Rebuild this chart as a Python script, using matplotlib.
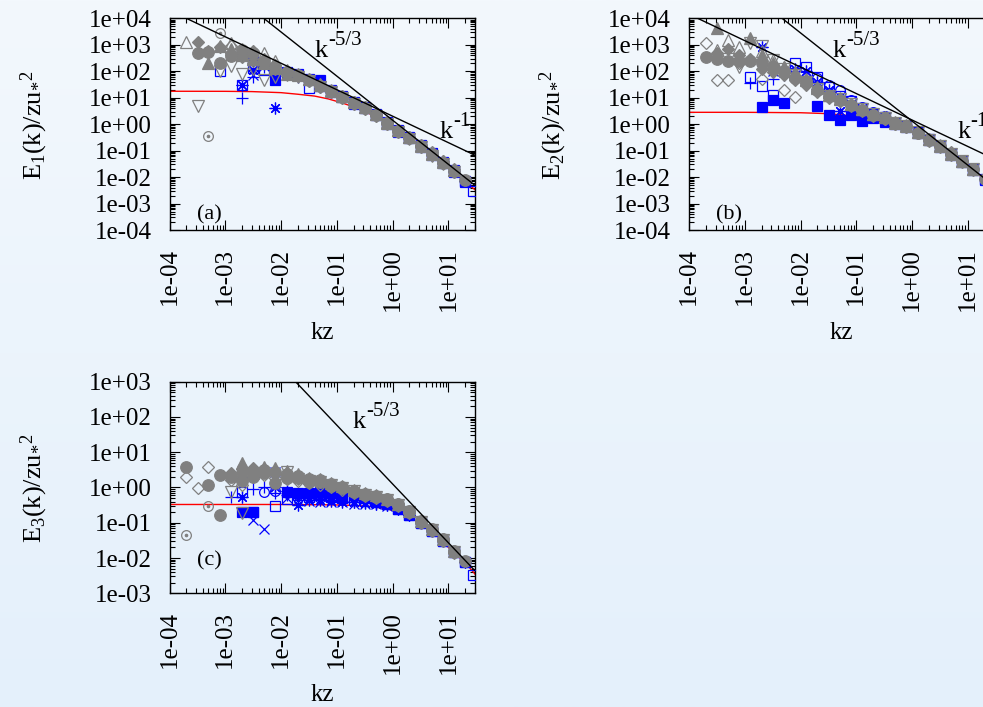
import numpy as np
import matplotlib
matplotlib.use('Agg')
import matplotlib.pyplot as plt
from matplotlib.ticker import LogLocator, FuncFormatter, NullFormatter
from matplotlib.colors import LinearSegmentedColormap

N = None

# ---------------- data ----------------
# common kz bins
K_BINS = [2.0e-4, 3.2e-4, 5.0e-4, 7.9e-4, 1.26e-3, 2.0e-3, 3.2e-3, 5.0e-3, 7.9e-3,
          0.0126, 0.020, 0.032, 0.050, 0.079, 0.126, 0.20, 0.32, 0.50, 0.79,
          1.26, 2.0, 3.2, 5.0, 7.9, 12.6, 20.0, 28.0]

# model (red) curves
A_RED_K = [1e-4, 1e-3, 3e-3, 0.01, 0.02, 0.04, 0.07, 0.12, 0.2, 0.4, 0.7, 1.2, 2, 4, 7, 12, 20, 30]
A_RED_E = [17.5, 17.4, 17.0, 15.5, 13.5, 11.5, 9.0, 6.5, 4.5, 2.4, 1.3, 0.58, 0.3, 0.11, 0.04, 0.016, 0.0068, 0.0033]
B_RED_K = [1e-4, 1e-3, 0.01, 0.03, 0.06, 0.1, 0.2, 0.4, 0.8, 1.5, 3, 6, 12, 20, 30]
B_RED_E = [2.8, 2.8, 2.7, 2.5, 2.2, 1.9, 1.5, 1.0, 0.65, 0.33, 0.14, 0.055, 0.019, 0.0082, 0.004]
C_RED_K = [1e-4, 1e-3, 1e-2, 0.05, 0.1, 0.2, 0.4, 0.8, 1.5, 3, 6, 12, 20, 30]
C_RED_E = [0.33, 0.33, 0.33, 0.325, 0.32, 0.31, 0.29, 0.25, 0.18, 0.1, 0.045, 0.015, 0.0075, 0.0035]

# reference power laws: amplitude at kz=1
A_KOLMO_AMP, A_KINV_AMP = 1.41, 2.0
B_KOLMO_AMP, B_KINV_AMP = 1.3, 1.43
C_KOLMO_AMP = 1.26

# panel (a) series (values on K_BINS)
A_G_FCIRCLE = [N, 480, 550, 200, 380, 650, 480, 240, 150, 90, 72, 47, 28, 17.5, 11, 6.3, 4.2, 2.3, 1.1, 0.56, 0.31, 0.15, 0.072, 0.035, 0.017, 0.0075, N]
A_G_FDIAMOND = [N, 1300, 600, 850, 500, 350, 600, 300, 170, 100, 66, 44, 26, 16, 10, 6.0, 3.9, 2.1, 1.05, 0.52, 0.29, 0.14, 0.068, 0.033, 0.016, N, N]
A_G_FTRI = [N, N, 200, 900, 700, 420, 300, 200, 130, 80, 75, 50, 30, 18.5, 11.5, 6.6, 4.4, 2.4, 1.15, 0.58, 0.32, 0.155, 0.075, 0.036, 0.018, N, N]
A_G_OTRI = [1300, N, N, N, 1150, 700, 420, 480, 250, 110, 80, 52, 32, 20, 12, 7.0, 4.6, 2.5, 1.2, 0.6, 0.33, 0.16, 0.08, 0.04, 0.019, N, N]
A_G_OINV = [N, 4.8, N, 100, 160, 80, 120, 48, 60, 70, 60, 42, 25, 16, 10, 5.8, 3.8, 2.1, 1.0, 0.5, 0.28, 0.135, 0.065, 0.031, 0.015, N, N]
A_G_ODIAMOND = [N, N, N, N, 900, 400, 250, 200, 120, 95, 70, 46, 29, 18, 11.5, 6.8, 4.5, 2.45, 1.2, 0.6, 0.34, 0.17, 0.085, 0.04, 0.02, N, N]
A_G_DOTCIRCLE = [N, N, 0.36, 2700, N, N, N, N, N, N, N, N, N, N, N, N, N, N, N, N, N, N, N, N, N, N, N]
A_B_FSQUARE = [N, N, N, N, N, 480, 260, N, 48, 90, 80, 50, 45, 20, 12, 7.0, 4.5, 2.5, 1.2, 0.6, 0.33, 0.16, 0.08, 0.038, 0.018, 0.0068, N]
A_B_OSQUARE = [N, N, N, 98, N, 31, 130, 110, N, N, N, 23, 28, 17, 10.5, 6.0, 4.0, 2.2, 1.05, 0.52, 0.29, 0.14, 0.068, 0.033, 0.016, 0.007, 0.003]
A_B_PLUS = [N, N, N, N, N, 9.8, 60, 150, 120, 80, 60, 44, 27, 17, 10.5, 6.2, 4.1, 2.25, 1.1, 0.54, 0.3, 0.145, 0.07, 0.034, 0.016, 0.007, N]
A_B_STAR = [N, N, N, N, N, 31, 110, 180, 4.2, 85, 65, 45, 26, 16.5, 10.5, 6.1, 4.1, 2.2, 1.08, 0.53, 0.3, 0.145, 0.07, 0.034, 0.017, 0.0072, N]
A_B_X = [N, N, N, N, N, N, 74, 160, 130, 85, 68, 46, 27, 17, 10.8, 6.2, 4.1, 2.25, 1.1, 0.54, 0.3, 0.148, 0.071, 0.034, 0.017, 0.0072, N]

# panel (b) series
B_G_FCIRCLE = [360, 300, 235, 235, 235, 200, 150, 98, 55, 42, 20, 12, 8.5, 5.5, 3.5, 2.3, 1.7, 1.1, 0.84, 0.48, 0.26, 0.15, 0.072, 0.04, 0.02, 0.0085, N]
B_G_FDIAMOND = [N, 480, 700, 400, 300, 120, 90, 70, 45, 30, 18, 10, 7.5, 5.0, 3.2, 2.1, 1.55, 1.0, 0.78, 0.45, 0.24, 0.14, 0.068, 0.037, 0.019, N, N]
B_G_FTRI = [N, 4200, N, N, 1800, 400, 200, 150, 80, 45, 24, 13, 9, 6, 3.8, 2.5, 1.8, 1.15, 0.88, 0.5, 0.27, 0.155, 0.075, 0.041, 0.021, N, N]
B_G_OTRI = [N, 650, 1500, 800, N, 600, 270, 150, 90, 50, 25, 13, 9.5, 6, 3.8, 2.5, 1.8, 1.2, 0.9, 0.5, 0.28, 0.16, 0.078, 0.042, 0.021, N, N]
B_G_ODIAMOND = [1150, 48, 48, 200, N, 50, N, 20, 11, 35, 17, 10.5, 8, 5.2, 3.3, 2.2, 1.6, 1.05, 0.8, 0.47, 0.25, 0.145, 0.085, 0.04, 0.02, N, N]
B_G_OINV = [N, N, 300, 150, 1200, 900, 270, 120, 70, 40, 21, 11.5, 8.8, 5.7, 3.6, 2.35, 1.75, 1.12, 0.85, 0.49, 0.26, 0.15, 0.073, 0.04, 0.02, N, N]
B_B_FSQUARE = [N, N, N, N, N, 4.5, 8.5, 6.3, N, N, 5.0, 2.3, 1.4, 2.3, 1.3, 1.7, 1.2, 1.0, 0.75, 0.45, 0.25, 0.14, 0.07, 0.038, 0.019, 0.008, N]
B_B_OSQUARE = [N, N, N, N, 63, 27, 13, N, 200, 150, 60, 25, 12, 7.2, 4.0, 2.5, 1.8, 1.15, 0.86, 0.5, 0.27, 0.15, 0.074, 0.04, 0.02, 0.0085, 0.004]
B_B_OCIRCLE = [N, N, N, N, N, 200, N, N, N, N, 55, 30, 20, 8, 4.5, 2.8, 2.0, 1.25, 0.9, 0.52, N, N, N, N, N, N, N]
B_B_STAR = [N, N, N, N, N, 850, N, N, 120, 98, 40, 20, 3.1, 6, 3.6, 2.4, 1.75, 1.1, 0.85, 0.48, 0.26, 0.15, 0.072, 0.04, 0.02, 0.0085, N]
B_B_PLUS = [N, N, N, N, 35, N, 50, 70, 60, 45, 22, 12, 8.5, 5.6, 3.5, 2.3, 1.7, 1.1, 0.84, 0.48, 0.26, 0.15, 0.072, 0.04, 0.02, 0.0085, N]
B_B_X = [N, N, N, N, N, N, 100, 90, 70, 45, 22, 12, 8.5, 5.5, 3.5, 2.3, 1.7, 1.1, 0.84, 0.48, 0.26, 0.15, 0.072, 0.04, 0.02, 0.0085, N]

# panel (c) series
C_G_FCIRCLE = [3.9, N, 1.2, 2.2, 2.0, 2.5, 3.0, 3.2, 1.3, 1.9, 1.8, 1.4, 1.45, 1.1, 0.95, 0.76, 0.61, 0.55, 0.45, 0.32, 0.2, 0.107, 0.063, 0.033, 0.015, 0.008, N]
C_G_FCIRCLE2 = [N, N, N, 0.17, N, 1.5, 2.0, 2.5, 2.8, 2.4, 2.1, 1.7, 1.6, 1.25, 1.05, 0.82, 0.66, 0.58, 0.47, 0.33, 0.21, 0.11, 0.065, 0.034, 0.016, N, N]
C_G_ODIAMOND = [2.0, 0.95, 3.9, N, 1.6, 1.2, N, 2.2, 1.9, 1.7, 1.5, 1.3, 1.2, 1.0, 0.85, 0.7, 0.57, 0.5, 0.42, 0.3, 0.19, 0.1, 0.06, 0.031, 0.014, N, N]
C_G_FDIAMOND = [N, N, N, N, 2.6, 3.3, 3.6, 3.0, 2.6, 2.2, 2.0, 1.6, 1.5, 1.2, 1.0, 0.8, 0.64, 0.56, 0.46, 0.33, 0.2, 0.11, 0.064, 0.034, 0.016, N, N]
C_G_FTRI = [N, N, N, N, N, 4.9, 2.5, 3.8, 3.5, 3.0, 2.4, 1.9, 1.7, 1.3, 1.1, 0.85, 0.68, 0.6, 0.48, 0.34, 0.21, 0.115, 0.066, 0.035, 0.016, N, N]
C_G_OINV = [N, N, N, N, 0.76, 0.19, N, N, N, 2.8, 1.7, 1.5, 1.4, 1.15, 0.98, 0.78, 0.62, 0.55, 0.45, 0.32, 0.2, 0.108, 0.063, 0.033, 0.015, N, N]
C_G_DOTCIRCLE = [0.045, N, 0.30, N, N, 3.5, N, N, N, N, N, N, N, N, N, N, N, N, N, N, N, N, N, N, N, N, N]
C_B_FSQUARE = [N, N, N, N, N, 0.20, 0.20, N, N, 0.76, 0.69, 0.69, 0.76, 0.69, 0.62, 0.62, 0.49, 0.40, 0.33, 0.25, 0.17, 0.1, 0.06, 0.031, 0.015, 0.0075, N]
C_B_OSQUARE = [N, N, N, N, N, 0.76, 0.20, N, 0.30, 0.46, 0.6, 0.55, 0.6, 0.55, 0.5, 0.45, 0.42, 0.38, 0.33, 0.24, 0.17, 0.1, 0.06, 0.031, 0.015, 0.0075, 0.0033]
C_B_X = [N, N, N, N, N, 2.5, 0.12, 0.066, 2.8, 0.5, 0.45, 0.42, 0.4, 0.4, 0.38, 0.35, 0.35, 0.33, 0.3, 0.24, 0.17, 0.1, 0.06, 0.031, 0.015, 0.0075, N]
C_B_PLUS = [N, N, N, N, 0.55, N, 0.9, 1.0, 0.7, 0.6, 0.55, 0.5, 0.48, 0.45, 0.42, 0.4, 0.38, 0.35, 0.31, 0.24, 0.17, 0.1, 0.06, 0.031, 0.015, 0.0075, N]
C_B_STAR = [N, N, N, N, N, 0.55, 2.0, N, 1.0, 0.8, 0.32, 0.45, 0.45, 0.42, 0.4, 0.38, 0.36, 0.34, 0.31, 0.24, 0.17, 0.1, 0.06, 0.031, 0.015, 0.0075, N]
C_B_OCIRCLE = [N, N, N, N, N, N, N, 0.75, 0.8, 0.7, 0.6, 0.55, 0.5, 0.47, 0.44, N, N, N, N, N, N, N, N, N, N, N, N]

# ---------------- styling ----------------
GRAY = '#808080'
BLUE = '#0000ff'
STYLES = {
    'fcircle': dict(marker='o', ms=8.3, filled=True),
    'ocircle': dict(marker='o', ms=7.0, filled=False),
    'dotcircle': dict(marker='o', ms=7.0, filled=False, dot=True),
    'fsquare': dict(marker='s', ms=7.8, filled=True),
    'osquare': dict(marker='s', ms=7.2, filled=False),
    'ftri': dict(marker='^', ms=8.5, filled=True),
    'otri': dict(marker='^', ms=8.5, filled=False),
    'oinv': dict(marker='v', ms=8.5, filled=False),
    'fdiamond': dict(marker='D', ms=6.3, filled=True),
    'odiamond': dict(marker='D', ms=6.3, filled=False),
    'plus': dict(marker='+', ms=8.5, filled=False),
    'x': dict(marker='x', ms=7.5, filled=False),
    'star': dict(marker=(8, 2, 0), ms=8.5, filled=False),
}

plt.rcParams['font.family'] = ['Liberation Serif', 'DejaVu Serif']
plt.rcParams['mathtext.fontset'] = 'custom'
plt.rcParams['mathtext.rm'] = 'Liberation Serif'
plt.rcParams['mathtext.it'] = 'Liberation Serif'
plt.rcParams['mathtext.bf'] = 'Liberation Serif:bold'

W, H = 983, 707
fig = plt.figure(figsize=(W / 100, H / 100), dpi=100)

# background gradient
bg = fig.add_axes([0, 0, 1, 1], zorder=-10)
cmap = LinearSegmentedColormap.from_list('bg', ['#f3f8fd', '#e4f0fb'])
bg.imshow(np.linspace(0, 1, 256)[:, None], aspect='auto', cmap=cmap,
          extent=[0, 1, 0, 1], origin='upper')
bg.axis('off')


def px_rect(left, top, right, bottom):
    return [left / W, 1 - bottom / H, (right - left) / W, (bottom - top) / H]


def fmt(v, pos):
    return '1e%+03d' % int(round(np.log10(v)))


def setup(ax, ylim):
    ax.set_facecolor('none')
    ax.set_xscale('log')
    ax.set_yscale('log')
    ax.set_xlim(1e-4, 30)
    ax.set_ylim(*ylim)
    for axis in (ax.xaxis, ax.yaxis):
        axis.set_major_locator(LogLocator(base=10, numticks=100))
        axis.set_minor_locator(LogLocator(base=10, subs=np.arange(2, 10), numticks=100))
        axis.set_major_formatter(FuncFormatter(fmt))
        axis.set_minor_formatter(NullFormatter())
    ax.tick_params(which='both', direction='in', top=True, right=True,
                   labelsize=18, pad=13, width=0.8, color='black')
    ax.tick_params(which='major', length=7)
    ax.tick_params(which='minor', length=3.5)
    ax.tick_params(axis='x', labelrotation=90)
    for s in ax.spines.values():
        s.set_linewidth(1.0)


def plot_series(ax, vals, style, color):
    st = STYLES[style]
    k = np.array(K_BINS, float)
    e = np.array([np.nan if v is None else v for v in vals], float)
    m = ~np.isnan(e)
    ax.plot(k[m], e[m], linestyle='none', marker=st['marker'], ms=st['ms'],
            mfc=color if st['filled'] else 'none', mec=color, mew=0.9, zorder=3)
    if st.get('dot'):
        ax.plot(k[m], e[m], linestyle='none', marker='o', ms=1.6,
                mfc=color, mec=color, zorder=3)


def ref_line(ax, amp, slope):
    k = np.array([1e-5, 100.0])
    ax.plot(k, amp * k ** slope, color='black', lw=1.0, zorder=5)


def power_label(ax, x, y, expo):
    ax.text(x, y, 'k', transform=ax.transAxes, fontsize=19, va='baseline', ha='left')
    ax.annotate(expo, xy=(x, y), xycoords='axes fraction', xytext=(9.5, 8.5),
                textcoords='offset points', fontsize=15, va='baseline', ha='left',
                annotation_clip=False)


# ---------------- panels ----------------
ax_a = fig.add_axes(px_rect(169.5, 18.3, 475, 230))
ax_b = fig.add_axes(px_rect(689, 18.3, 994.5, 230))
ax_c = fig.add_axes(px_rect(169.5, 381.7, 475, 593.3))
setup(ax_a, (1e-4, 1e4))
setup(ax_b, (1e-4, 1e4))
setup(ax_c, (1e-3, 1e3))

ax_a.plot(A_RED_K, A_RED_E, color='red', lw=1.0, zorder=2)
ax_b.plot(B_RED_K, B_RED_E, color='red', lw=1.0, zorder=2)
ax_c.plot(C_RED_K, C_RED_E, color='red', lw=1.0, zorder=2)

for vals, st in [(A_B_FSQUARE, 'fsquare'), (A_B_OSQUARE, 'osquare'), (A_B_PLUS, 'plus'),
                 (A_B_STAR, 'star'), (A_B_X, 'x')]:
    plot_series(ax_a, vals, st, BLUE)
for vals, st in [(A_G_OTRI, 'otri'), (A_G_OINV, 'oinv'), (A_G_ODIAMOND, 'odiamond'),
                 (A_G_DOTCIRCLE, 'dotcircle'), (A_G_FTRI, 'ftri'), (A_G_FDIAMOND, 'fdiamond'),
                 (A_G_FCIRCLE, 'fcircle')]:
    plot_series(ax_a, vals, st, GRAY)

for vals, st in [(B_B_FSQUARE, 'fsquare'), (B_B_OSQUARE, 'osquare'), (B_B_OCIRCLE, 'ocircle'),
                 (B_B_STAR, 'star'), (B_B_PLUS, 'plus'), (B_B_X, 'x')]:
    plot_series(ax_b, vals, st, BLUE)
for vals, st in [(B_G_OTRI, 'otri'), (B_G_OINV, 'oinv'), (B_G_ODIAMOND, 'odiamond'),
                 (B_G_FTRI, 'ftri'), (B_G_FDIAMOND, 'fdiamond'), (B_G_FCIRCLE, 'fcircle')]:
    plot_series(ax_b, vals, st, GRAY)

for vals, st in [(C_B_FSQUARE, 'fsquare'), (C_B_OSQUARE, 'osquare'), (C_B_X, 'x'),
                 (C_B_PLUS, 'plus'), (C_B_STAR, 'star'), (C_B_OCIRCLE, 'ocircle')]:
    plot_series(ax_c, vals, st, BLUE)
for vals, st in [(C_G_ODIAMOND, 'odiamond'), (C_G_OINV, 'oinv'), (C_G_DOTCIRCLE, 'dotcircle'),
                 (C_G_FTRI, 'ftri'), (C_G_FDIAMOND, 'fdiamond'), (C_G_FCIRCLE2, 'fcircle'),
                 (C_G_FCIRCLE, 'fcircle')]:
    plot_series(ax_c, vals, st, GRAY)

ref_line(ax_a, A_KOLMO_AMP, -5 / 3)
ref_line(ax_a, A_KINV_AMP, -1)
ref_line(ax_b, B_KOLMO_AMP, -5 / 3)
ref_line(ax_b, B_KINV_AMP, -1)
ref_line(ax_c, C_KOLMO_AMP, -5 / 3)

power_label(ax_a, 0.475, 0.816, '-5/3')
power_label(ax_a, 0.884, 0.434, '-1')
power_label(ax_b, 0.470, 0.816, '-5/3')
power_label(ax_b, 0.879, 0.434, '-1')
power_label(ax_c, 0.600, 0.781, '-5/3')

PL = dict(fontsize=16, va='baseline', ha='left')
ax_a.text(0.09, 0.05, '(a)', transform=ax_a.transAxes, **PL)
ax_b.text(0.09, 0.05, '(b)', transform=ax_b.transAxes, **PL)
ax_c.text(0.09, 0.13, '(c)', transform=ax_c.transAxes, **PL)

LAB = dict(fontsize=18, ha='center', va='center')
fig.text(322 / W, 1 - 333 / H, 'kz', **LAB)
fig.text(841.5 / W, 1 - 333 / H, 'kz', **LAB)
fig.text(322 / W, 1 - 695 / H, 'kz', **LAB)
YL = dict(fontsize=19, ha='center', va='center', rotation=90)
fig.text(34 / W, 1 - 125 / H, r'$\mathrm{E_1(k)/zu_{{*}}{}^2}$', **YL)
fig.text(553 / W, 1 - 125 / H, r'$\mathrm{E_2(k)/zu_{{*}}{}^2}$', **YL)
fig.text(34 / W, 1 - 488 / H, r'$\mathrm{E_3(k)/zu_{{*}}{}^2}$', **YL)

fig.savefig('out.png', dpi=100)
